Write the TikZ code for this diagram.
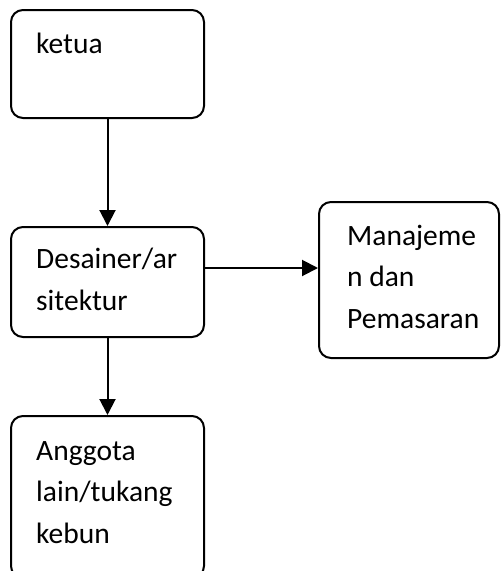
\documentclass[tikz,border=0pt]{standalone}
\usepackage{fontspec}
\setmainfont{Carlito}
\usetikzlibrary{arrows.meta}

\tikzset{
    box/.style={draw, line width=2pt, rounded corners=12pt, inner sep=0pt},
    lbl/.style={anchor=base west, align=left, inner sep=0pt,
        font=\fontsize{29.5}{41.5}\selectfont},
    arr/.style={line width=2pt, -{Triangle[length=16pt,width=16pt]}}
}

\begin{document}
\begin{tikzpicture}[x=1pt, y=-1pt]
        \useasboundingbox (0, 0) rectangle (501, 571);
        \clip (0, 0) rectangle (501, 571);

        % The four boxes of the chart
        \node[box, minimum width=193pt, minimum height=108pt] (ketua) at (107.5, 64) {};
        \node[box, minimum width=193pt, minimum height=110pt] (desainer) at (107.5, 282) {};
        \node[box, minimum width=180pt, minimum height=156pt] (manajemen) at (409, 280) {};
        \node[box, minimum width=193pt, minimum height=162pt] (anggota) at (107.5, 497) {};

        % Texts, set at the top left of each box (base = last line)
        \node[lbl] (ketuaText) at ([shift={(26pt,-44pt)}]ketua.north west) {ketua};
        \node[lbl] (desainerText) at ([shift={(26pt,-84pt)}]desainer.north west) {Desainer/ar\\sitektur};
        \node[lbl] (manajemenText) at ([shift={(29pt,-127pt)}]manajemen.north west) {Manajeme\\n dan\\Pemasaran};
        \node[lbl] (anggotaText) at ([shift={(26pt,-128pt)}]anggota.north west) {Anggota\\lain/tukang\\kebun};

        % Arrows between the boxes
        \draw[arr] (ketua.south) -- (desainer.north);
        \draw[arr] ([yshift=14pt]desainer.east) -- ([yshift=14pt]desainer.east -| manajemen.west);
        \draw[arr] (desainer.south) -- (anggota.north);
\end{tikzpicture}
\end{document}
